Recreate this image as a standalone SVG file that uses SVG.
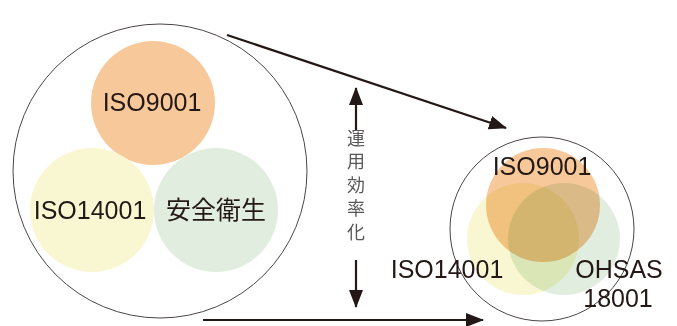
<svg xmlns="http://www.w3.org/2000/svg" width="677" height="326" viewBox="0 0 677 326">
<style>
.outer{fill:none;stroke:#4a4446;stroke-width:1}
.lbl{font-family:"Liberation Sans","Noto Sans CJK JP",sans-serif;fill:#231815;font-size:25px;text-anchor:middle}
.vt{font-family:"Noto Sans CJK JP",sans-serif;fill:#595757;font-size:18px;writing-mode:vertical-rl;letter-spacing:5.5px}
.ln{stroke:#231815;stroke-width:2.2;fill:none}
.m{mix-blend-mode:multiply}
</style>
<defs>
<marker id="ah" viewBox="0 0 18 14" refX="17" refY="7" markerWidth="18" markerHeight="14" markerUnits="userSpaceOnUse" orient="auto">
<path d="M0,0 L18,7 L0,14 Z" fill="#231815"/>
</marker>
</defs>
<g id="left-group">
<circle class="outer" cx="160" cy="171" r="147"/>
<g id="iso9001-a"><circle cx="153" cy="103" r="62" fill="#f7c99a"/><text class="lbl" x="152" y="111">ISO9001</text></g>
<g id="iso14001-a"><circle cx="92" cy="210" r="62" fill="#f9f7d1"/><text class="lbl" x="90" y="219">ISO14001</text></g>
<g id="safety"><circle cx="216" cy="210" r="62" fill="#e1eedf"/><text class="lbl" x="216" y="219" font-size="26">安全衛生</text></g>
</g>
<g id="right-group">
<circle class="outer" cx="542" cy="229" r="92"/>
<g id="iso14001-b"><circle class="m" cx="523" cy="239" r="56" fill="#f9f7d1"/></g>
<g id="ohsas"><circle class="m" cx="564" cy="239" r="56" fill="#e1eedf"/></g>
<g id="iso9001-b"><circle class="m" cx="543" cy="205" r="57" fill="#f7c99a"/></g>
<text class="lbl" x="542" y="175">ISO9001</text>
<text class="lbl" x="447" y="278">ISO14001</text>
<text class="lbl" x="619" y="278">OHSAS</text>
<text class="lbl" x="618" y="307">18001</text>
</g>
<g id="connectors">
<line class="ln" x1="227" y1="35" x2="506" y2="128" marker-end="url(#ah)"/>
<line class="ln" x1="203" y1="320" x2="483" y2="320" marker-end="url(#ah)"/>
<line class="ln" x1="356" y1="130" x2="356" y2="88" marker-end="url(#ah)"/>
<line class="ln" x1="356" y1="260" x2="356" y2="307" marker-end="url(#ah)"/>
</g>
<g id="vertical-label">
<text class="vt" x="356" y="129">運用効率化</text>
</g>
</svg>
